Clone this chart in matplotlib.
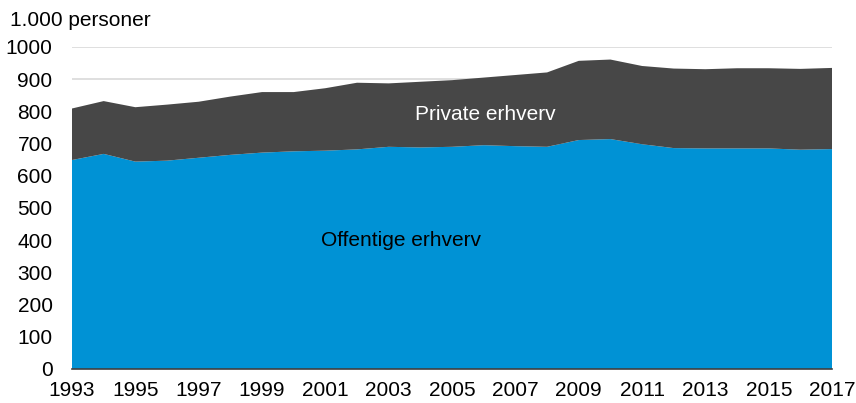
import numpy as np
import matplotlib.pyplot as plt

plt.rcParams['font.family'] = ['Liberation Sans', 'DejaVu Sans']

# år og beskæftigede (1.000 personer)
years = list(range(1993, 2018))
offentlig = [649, 668, 644, 647, 656, 665, 672, 676, 678, 682, 690, 688, 690,
             695, 692, 690, 711, 714, 698, 686, 685, 685, 685, 681, 683]
total = [809, 832, 813, 821, 830, 846, 860, 860, 872, 889, 887, 892, 897,
         905, 913, 921, 957, 961, 941, 933, 931, 934, 934, 932, 935]
privat = [t - o for t, o in zip(total, offentlig)]

fig = plt.figure(figsize=(8.56, 4.03), dpi=100)
ax = fig.add_axes([0.0841, 0.0844, 0.888, 0.799])

ax.stackplot(years, offentlig, privat, colors=['#0092d5', '#474747'], zorder=2)

ax.set_xlim(1993, 2017)
ax.set_ylim(0, 1000)
ax.set_yticks(range(0, 1001, 100))
ax.set_xticks(range(1993, 2018, 2))
ax.grid(axis='y', color='#d9d9d9', linewidth=1.2, zorder=0)
ax.tick_params(length=0, labelsize=15, colors='black')
ax.tick_params(axis='y', pad=14)
ax.tick_params(axis='x', pad=9)
for s in ['top', 'right', 'left']:
    ax.spines[s].set_visible(False)
ax.spines['bottom'].set_color('#404040')
ax.spines['bottom'].set_linewidth(1.2)
ax.spines['bottom'].set_zorder(3)

ax.text(2006.05, 789, 'Private erhverv', color='white', fontsize=15,
        ha='center', va='center', zorder=4)
ax.text(2003.4, 400, 'Offentige erhverv', color='black', fontsize=15,
        ha='center', va='center', zorder=4)

fig.text(10 / 856, 1 - 20 / 403, '1.000 personer', fontsize=15,
         ha='left', va='center')

fig.savefig('out.png', dpi=100)
